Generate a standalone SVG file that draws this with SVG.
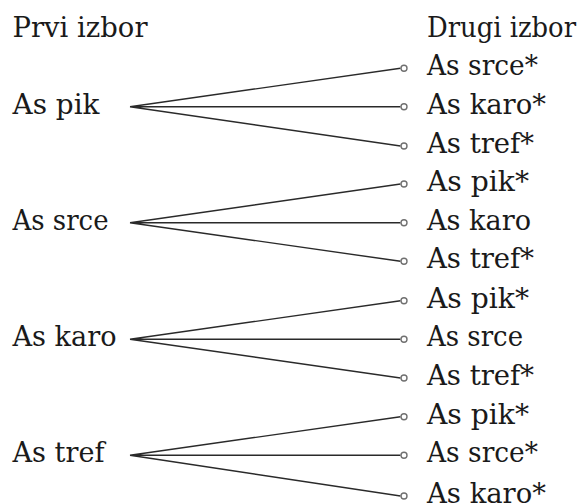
<svg xmlns="http://www.w3.org/2000/svg" width="583" height="503" viewBox="0 0 583 503">
<style>
text{font-family:"DejaVu Serif","Liberation Serif",serif;font-size:28px;fill:#1a1a1a}
.e{stroke:#2a2a2a;stroke-width:1.4;fill:none}
.d{stroke:#707070;stroke-width:1.4;fill:#fff}
</style>
<rect width="583" height="503" fill="#fff"/>
<g id="headers">
<text x="12.5" y="37" textLength="135" lengthAdjust="spacingAndGlyphs">Prvi izbor</text>
<text x="427" y="37" textLength="149" lengthAdjust="spacingAndGlyphs">Drugi izbor</text>
</g>
<g id="connectors">
<path class="e" d="M130,106.7L400.5,68.3M130,106.7L400.5,106.7M130,106.7L400.5,146"/>
<path class="e" d="M130,222.7L400.5,184M130,222.7L400.5,222.7M130,222.7L400.5,261.3"/>
<path class="e" d="M130,339.3L400.5,300.7M130,339.3L400.5,339.3M130,339.3L400.5,378"/>
<path class="e" d="M130,455.3L400.5,416.7M130,455.3L400.5,455.3M130,455.3L400.5,496"/>
</g>
<g id="n-pik"><text x="12.5" y="113.5" textLength="87" lengthAdjust="spacingAndGlyphs">As pik</text></g>
<g id="n-srce"><text x="12.5" y="229.5" textLength="96" lengthAdjust="spacingAndGlyphs">As srce</text></g>
<g id="n-karo"><text x="12.5" y="346" textLength="104" lengthAdjust="spacingAndGlyphs">As karo</text></g>
<g id="n-tref"><text x="12.5" y="462" textLength="92" lengthAdjust="spacingAndGlyphs">As tref</text></g>
<g id="r1"><circle class="d" cx="404" cy="68.3" r="3"/><text x="427" y="75.3" textLength="111" lengthAdjust="spacingAndGlyphs">As srce*</text></g>
<g id="r2"><circle class="d" cx="404" cy="106.7" r="3"/><text x="427" y="113.7" textLength="119" lengthAdjust="spacingAndGlyphs">As karo*</text></g>
<g id="r3"><circle class="d" cx="404" cy="146" r="3"/><text x="427" y="153" textLength="107" lengthAdjust="spacingAndGlyphs">As tref*</text></g>
<g id="r4"><circle class="d" cx="404" cy="184" r="3"/><text x="427" y="191" textLength="102" lengthAdjust="spacingAndGlyphs">As pik*</text></g>
<g id="r5"><circle class="d" cx="404" cy="222.7" r="3"/><text x="427" y="229.7" textLength="104" lengthAdjust="spacingAndGlyphs">As karo</text></g>
<g id="r6"><circle class="d" cx="404" cy="261.3" r="3"/><text x="427" y="268.3" textLength="107" lengthAdjust="spacingAndGlyphs">As tref*</text></g>
<g id="r7"><circle class="d" cx="404" cy="300.7" r="3"/><text x="427" y="307.7" textLength="102" lengthAdjust="spacingAndGlyphs">As pik*</text></g>
<g id="r8"><circle class="d" cx="404" cy="339.3" r="3"/><text x="427" y="346.3" textLength="96" lengthAdjust="spacingAndGlyphs">As srce</text></g>
<g id="r9"><circle class="d" cx="404" cy="378" r="3"/><text x="427" y="385" textLength="107" lengthAdjust="spacingAndGlyphs">As tref*</text></g>
<g id="r10"><circle class="d" cx="404" cy="416.7" r="3"/><text x="427" y="423.7" textLength="102" lengthAdjust="spacingAndGlyphs">As pik*</text></g>
<g id="r11"><circle class="d" cx="404" cy="455.3" r="3"/><text x="427" y="462.3" textLength="111" lengthAdjust="spacingAndGlyphs">As srce*</text></g>
<g id="r12"><circle class="d" cx="404" cy="496" r="3"/><text x="427" y="503" textLength="119" lengthAdjust="spacingAndGlyphs">As karo*</text></g>
</svg>
